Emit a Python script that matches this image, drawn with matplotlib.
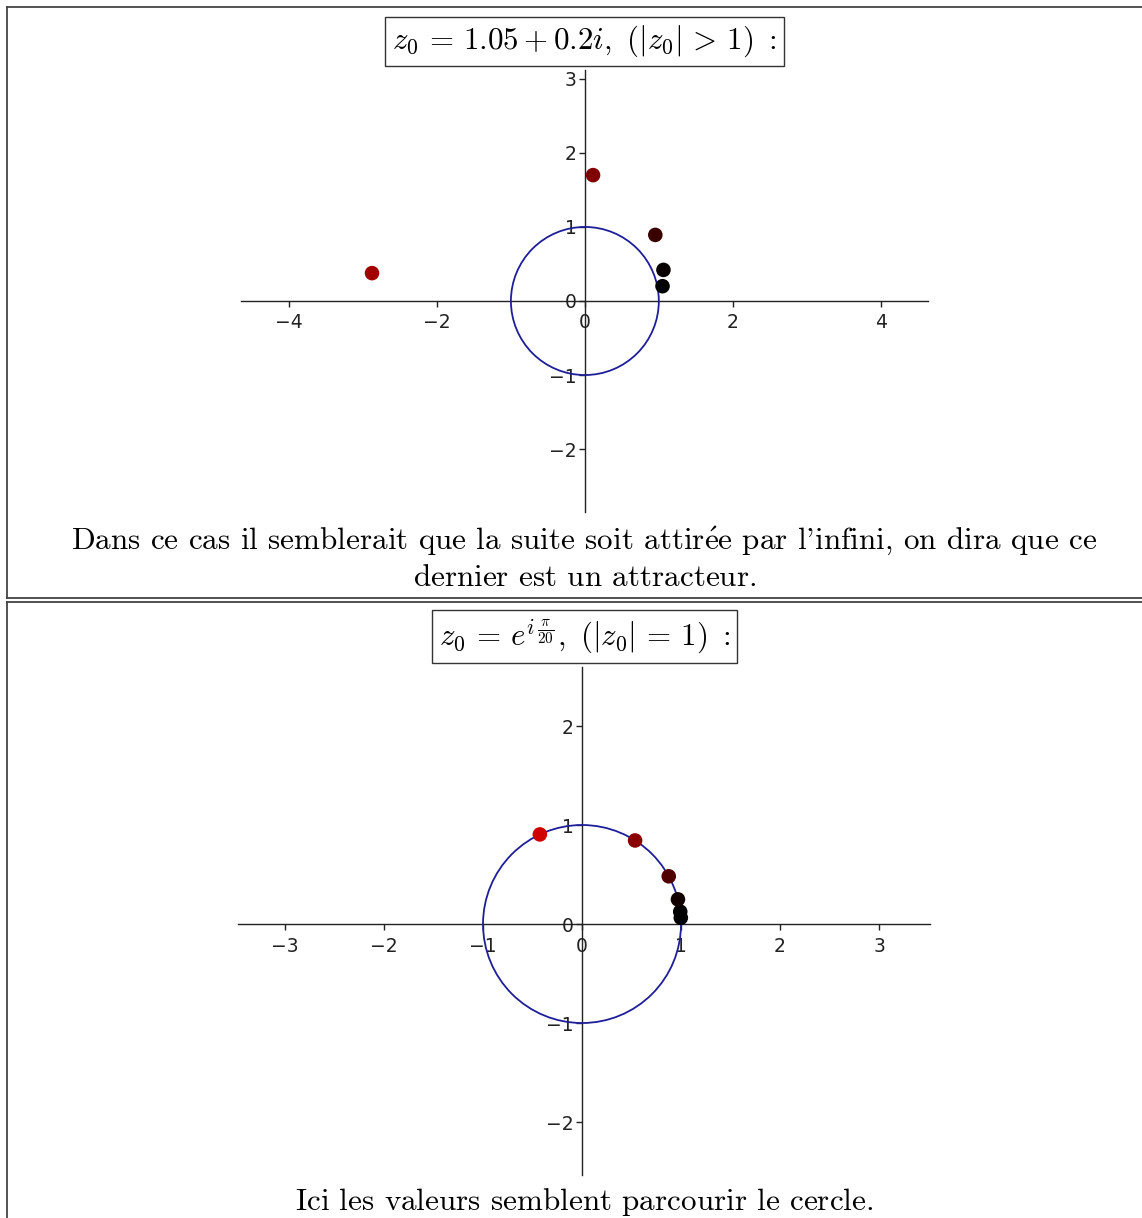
import matplotlib
matplotlib.use("Agg")
import matplotlib.pyplot as plt
from matplotlib.lines import Line2D
from matplotlib.patches import Circle

plt.rcParams['mathtext.fontset'] = 'cm'
plt.rcParams['font.family'] = 'DejaVu Sans'

W, H = 1142, 1218

# first orbit: z0 = 1.05 + 0.2i, iterated z -> z^2
orbit1_re = [1.05, 1.0625, 0.9525, 0.1107, -2.8784]
orbit1_im = [0.2, 0.42, 0.8925, 1.7002, 0.3764]
orbit1_col = ['#000000', '#080000', '#3a0000', '#800000', '#a00000']
orbit1_xticks = [-4, -2, 0, 2, 4]
orbit1_yticks = [-2, -1, 0, 1, 2, 3]

# second orbit: points on the unit circle
orbit2_re = [0.998, 0.992, 0.969, 0.876, 0.536, -0.426]
orbit2_im = [0.063, 0.125, 0.249, 0.482, 0.844, 0.905]
orbit2_col = ['#000000', '#000000', '#100000', '#500000', '#8a0000', '#d00000']
orbit2_xticks = [-3, -2, -1, 0, 1, 2, 3]
orbit2_yticks = [-2, -1, 0, 1, 2]

title1 = r"$z_0\,=\,1.05 + 0.2i,\ (|z_0|\,>\,1)\ :$"
title2 = r"$z_0\,=\,e^{i\,\frac{\pi}{20}},\ (|z_0|\,=\,1)\ :$"
text1a = (r"$\text{Dans ce cas il semblerait que la suite soit attir}"
          r"\mathrm{\acute{e}}\text{e par l'infini, on dira que ce}$")
text1b = r"$\text{dernier est un attracteur.}$"
text2 = r"$\text{Ici les valeurs semblent parcourir le cercle.}$"


def fx(x):
    return x / W


def fy(y):
    return 1 - y / H


def sage_axes(fig, box, xlim, ylim, xticks, yticks):
    left, top, right, bottom = box
    ax = fig.add_axes([fx(left), fy(bottom), fx(right) - fx(left), fy(top) - fy(bottom)])
    ax.set_xlim(*xlim)
    ax.set_ylim(*ylim)
    for s in ['left', 'bottom']:
        ax.spines[s].set_position(('data', 0))
        ax.spines[s].set_linewidth(1.0)
        ax.spines[s].set_color('#222222')
    ax.spines['right'].set_visible(False)
    ax.spines['top'].set_visible(False)
    ax.set_xticks(xticks)
    ax.set_yticks(yticks)
    ax.tick_params(labelsize=13.5, length=4, width=1, colors='#222222')
    ax.tick_params(axis='x', pad=5)
    ax.tick_params(axis='y', pad=2)
    ax.patch.set_alpha(0)
    return ax


fig = plt.figure(figsize=(W / 100, H / 100), dpi=100)

# table rules
rule = dict(color='#444444', lw=1.3, transform=fig.transFigure)
fig.add_artist(Line2D([fx(7), 1], [fy(7), fy(7)], **rule))
fig.add_artist(Line2D([fx(7), fx(7)], [fy(7), fy(598)], **rule))
fig.add_artist(Line2D([fx(7), 1], [fy(598), fy(598)], **rule))
fig.add_artist(Line2D([fx(7), 1], [fy(602), fy(602)], **rule))
fig.add_artist(Line2D([fx(7), fx(7)], [fy(602), 0], **rule))

# top plot
ax1 = sage_axes(fig, (241, 70, 928, 512), (-4.65, 4.64), (-2.85, 3.12),
                orbit1_xticks, orbit1_yticks)
ax1.add_patch(Circle((0, 0), 1, fill=False, ec='#1e1e9a', lw=1.3, zorder=3))
ax1.scatter(orbit1_re, orbit1_im, c=orbit1_col, s=110, zorder=4, linewidths=0)

# bottom plot
ax2 = sage_axes(fig, (238, 667, 930, 1175), (-3.475, 3.515), (-2.535, 2.596),
                orbit2_xticks, orbit2_yticks)
ax2.add_patch(Circle((0, 0), 1, fill=False, ec='#1e1e9a', lw=1.3, zorder=3))
ax2.scatter(orbit2_re, orbit2_im, c=orbit2_col, s=110, zorder=4, linewidths=0)

box = dict(boxstyle='square,pad=0.22', fc='white', ec='#333333', lw=1.0)
fig.text(fx(584.5), fy(41.5), title1, fontsize=22.3, ha='center', va='center', bbox=box)
fig.text(fx(584.5), fy(636.5), title2, fontsize=22.3, ha='center', va='center', bbox=box)

fig.text(fx(584.5), fy(541), text1a, fontsize=22.4, ha='center', va='center')
fig.text(fx(584.5), fy(578), text1b, fontsize=22.4, ha='center', va='center')
fig.text(fx(584.5), fy(1202), text2, fontsize=22.4, ha='center', va='center')

fig.savefig('out.png', dpi=100)
